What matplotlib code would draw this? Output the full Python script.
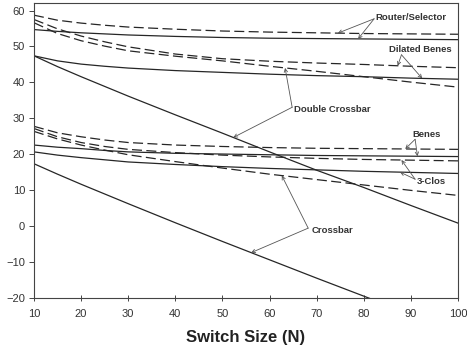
import numpy as np
import matplotlib
matplotlib.use("Agg")
import matplotlib.pyplot as plt

plt.rcParams["font.family"] = ["Liberation Sans", "DejaVu Sans"]

# Switch size N (x axis)
switch_size = [10, 15, 20, 25, 30, 40, 50, 60, 70, 80, 90, 100]

# Each architecture has a dashed and a solid curve
router_selector_dashed = [58.7, 57.3, 56.5, 55.9, 55.4, 54.8, 54.3, 54.0, 53.8, 53.6, 53.5, 53.4]
router_selector_solid = [54.7, 54.2, 53.8, 53.5, 53.2, 52.8, 52.5, 52.3, 52.2, 52.1, 52.0, 51.9]

dilated_benes_dashed = [57.5, 54.9, 52.9, 51.3, 49.9, 47.9, 46.6, 45.9, 45.4, 45.0, 44.5, 44.1]
dilated_benes_solid = [47.4, 46.0, 45.1, 44.5, 44.0, 43.3, 42.8, 42.3, 41.9, 41.6, 41.2, 40.9]

double_crossbar_dashed = [56.6, 53.6, 51.6, 50.1, 48.8, 47.3, 46.0, 44.5, 43.1, 41.6, 40.1, 38.7]
double_crossbar_solid = [47.4, 44.4, 41.6, 38.9, 36.2, 31.0, 25.9, 20.7, 15.6, 10.8, 5.8, 0.9]

benes_dashed = [27.8, 26.0, 24.9, 24.0, 23.3, 22.6, 22.2, 21.9, 21.7, 21.6, 21.5, 21.4]
benes_solid = [22.6, 22.0, 21.6, 21.1, 20.7, 20.3, 20.1, 19.9, 19.7, 19.6, 19.5, 19.4]

clos3_dashed = [27.2, 24.9, 23.3, 22.2, 21.4, 20.5, 19.8, 19.3, 18.9, 18.6, 18.4, 18.2]
clos3_solid = [20.7, 19.8, 19.1, 18.5, 17.9, 17.2, 16.6, 16.1, 15.7, 15.3, 15.0, 14.7]

crossbar_dashed = [26.4, 24.3, 22.6, 21.2, 19.9, 18.0, 16.2, 14.5, 13.0, 11.5, 10.0, 8.6]
crossbar_solid = [17.4, 14.5, 11.7, 9.0, 6.3, 1.0, -4.2, -9.3, -14.4, -19.4, -24.4, -29.4]

x_ticks = [10, 20, 30, 40, 50, 60, 70, 80, 90, 100]
y_ticks = [-20, -10, 0, 10, 20, 30, 40, 50, 60]

LINE = "#262626"
ARROW = "#555555"
TEXT = "#333333"

fig = plt.figure(figsize=(4.67, 3.49), dpi=100)
ax = fig.add_axes([0.0728, 0.1453, 0.9079, 0.8452])

dashed_series = [router_selector_dashed, dilated_benes_dashed, double_crossbar_dashed,
                 benes_dashed, clos3_dashed, crossbar_dashed]
solid_series = [router_selector_solid, dilated_benes_solid, double_crossbar_solid,
                benes_solid, clos3_solid, crossbar_solid]

for s in dashed_series:
    ax.plot(switch_size, s, color=LINE, lw=0.9, dashes=(8, 3.5))
for s in solid_series:
    ax.plot(switch_size, s, color=LINE, lw=0.9)

ax.set_xlim(10, 100)
ax.set_ylim(-20, 62)
ax.set_xticks(x_ticks)
ax.set_yticks(y_ticks)
ax.tick_params(axis="x", direction="inout", length=5, width=0.7, colors="#444444",
               labelcolor=TEXT, labelsize=8, pad=5)
ax.tick_params(axis="y", direction="out", length=3.5, width=0.7, colors="#444444",
               labelcolor=TEXT, labelsize=8, pad=3)
for sp in ax.spines.values():
    sp.set_color("#444444")
    sp.set_linewidth(0.8)

ax.set_xlabel("Switch Size (N)", fontsize=12, fontweight="bold", color="#222222", labelpad=8)

# Callout labels: text centre, arrow origin, and the N at which each arrow meets its curve
labels = [
    ("Router/Selector", (90.0, 58.1), (82.2, 57.7),
     [(router_selector_dashed, 74.5), (router_selector_solid, 78.8)]),
    ("Dilated Benes", (92.0, 49.1), (88.0, 47.7),
     [(dilated_benes_dashed, 87.2), (dilated_benes_solid, 92.4)]),
    ("Double Crossbar", (73.3, 32.5), (64.8, 33.1),
     [(double_crossbar_dashed, 63.3), (double_crossbar_solid, 52.3)]),
    ("Benes", (93.4, 25.4), (90.9, 24.2),
     [(benes_dashed, 88.8), (benes_solid, 91.4)]),
    ("3-Clos", (94.3, 12.4), (90.9, 13.1),
     [(clos3_dashed, 88.0), (clos3_solid, 87.7)]),
    ("Crossbar", (73.3, -1.1), (68.2, -0.5),
     [(crossbar_dashed, 62.6), (crossbar_solid, 56.1)]),
]

for text, pos, origin, targets in labels:
    ax.text(pos[0], pos[1], text, ha="center", va="center", fontsize=6.8,
            fontweight="bold", color=TEXT)
    for series, n in targets:
        tip = (n, float(np.interp(n, switch_size, series)))
        ax.annotate("", xy=tip, xytext=origin,
                    arrowprops=dict(arrowstyle="->", color=ARROW, lw=0.6,
                                    shrinkA=0, shrinkB=0,
                                    mutation_scale=6))

fig.savefig("out.png", dpi=100)
